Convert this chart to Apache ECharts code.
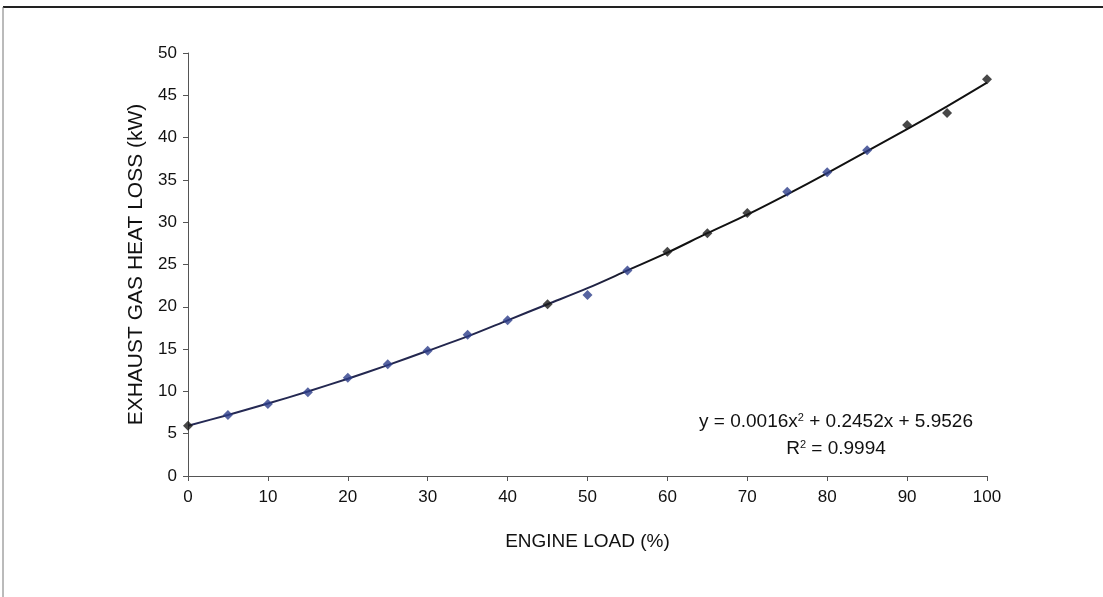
<!DOCTYPE html>
<html><head><meta charset="utf-8">
<script src="https://cdn.jsdelivr.net/npm/echarts@6/dist/echarts.min.js"></script>
<style>html,body{margin:0;padding:0;background:#fff}#c{width:1103px;height:597px}</style>
</head><body><div id="c"></div>
<script>
const loads = [0,5,10,15,20,25,30,35,40,45,50,55,60,65,70,75,80,85,90,95,100];
const heatLoss = [5.95,7.2,8.5,9.9,11.6,13.2,14.8,16.7,18.4,20.3,21.4,24.3,26.5,28.7,31.1,33.6,35.9,38.5,41.5,42.9,46.9];
const trendX = [0,5,10,15,20,25,30,35,40,45,50,55,60,65,70,75,80,85,90,95,100];
const trendY = [5.95,7.22,8.56,9.99,11.5,13.1,14.8,16.5,18.4,20.3,22.2,24.3,26.4,28.7,30.9,33.3,35.8,38.4,41.0,43.7,46.5];
const xTicks = [0,10,20,30,40,50,60,70,80,90,100];
const yTicks = [0,5,10,15,20,25,30,35,40,45,50];
const darkLoads = [0,45,60,65,70,90,95,100];

const chart = echarts.init(document.getElementById('c'));
const font = 'Liberation Sans, Arial, sans-serif';
chart.setOption({
  animation:false,
  backgroundColor:'#fff',
  grid:{left:188,right:116,top:53,bottom:121,containLabel:false},
  xAxis:{type:'value',min:xTicks[0],max:xTicks[xTicks.length-1],interval:10,
    name:'ENGINE LOAD (%)',nameLocation:'middle',nameGap:56,
    nameTextStyle:{fontFamily:font,fontSize:19,color:'#111'},
    axisLine:{show:true,lineStyle:{color:'#555',width:1}},
    axisTick:{show:true,inside:false,length:5,lineStyle:{color:'#555'}},
    axisLabel:{fontFamily:font,fontSize:17,color:'#111',margin:13},
    splitLine:{show:false}},
  yAxis:{type:'value',min:yTicks[0],max:yTicks[yTicks.length-1],interval:5,
    name:'EXHAUST GAS HEAT LOSS (kW)',nameLocation:'middle',nameGap:38,nameRotate:90,
    nameTextStyle:{fontFamily:font,fontSize:21,color:'#111'},
    axisLine:{show:true,lineStyle:{color:'#555',width:1}},
    axisTick:{show:true,inside:false,length:5,lineStyle:{color:'#555'}},
    axisLabel:{fontFamily:font,fontSize:17,color:'#111',margin:11},
    splitLine:{show:false}},
  series:[
    {type:'line',smooth:0.3,symbol:'none',data:trendX.map((x,i)=>[x,trendY[i]]),
      lineStyle:{width:2,color:new echarts.graphic.LinearGradient(0,0,1,0,[
        {offset:0,color:'#252a55'},{offset:0.5,color:'#22254a'},{offset:0.58,color:'#111'},{offset:1,color:'#111'}])},z:2},
    {type:'scatter',symbol:'diamond',symbolSize:10,data:loads.map((x,i)=>[x,heatLoss[i]]),
      itemStyle:{color:p=>darkLoads.includes(p.value[0])?'#1a1a1a':'#2d3d8a'},z:3}
  ],
  graphic:[
    {type:'line',shape:{x1:3,y1:7,x2:1103,y2:7},style:{stroke:'#222',lineWidth:2}},
    {type:'line',shape:{x1:3,y1:7,x2:3,y2:597},style:{stroke:'#777',lineWidth:1}},
    {type:'text',x:836,y:422,style:{text:'y = 0.0016x{s|2} + 0.2452x + 5.9526',rich:{s:{fontSize:11,padding:[0,0,9,0],fontFamily:font,fill:'#111'}},
      font:'19px '+font,fill:'#111',align:'center',verticalAlign:'middle'}},
    {type:'text',x:836,y:449,style:{text:'R{s|2} = 0.9994',rich:{s:{fontSize:11,padding:[0,0,9,0],fontFamily:font,fill:'#111'}},
      font:'19px '+font,fill:'#111',align:'center',verticalAlign:'middle'}}
  ]
});
</script></body></html>
